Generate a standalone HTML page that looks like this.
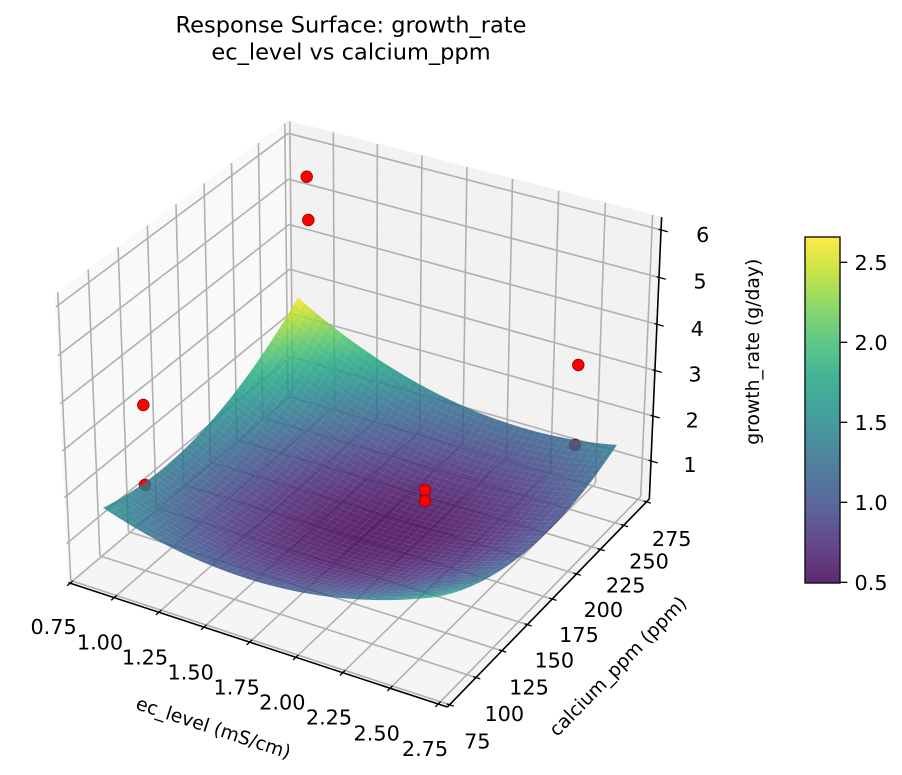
<!DOCTYPE html>
<html><head><meta charset="utf-8">
<style>
html,body{margin:0;padding:0;background:#fff;}
svg{display:block;}
text{font-family:"DejaVu Sans","Liberation Sans",sans-serif;fill:#000;}
</style></head>
<body>
<svg id="s" width="902" height="775" viewBox="0 0 902 775" xmlns="http://www.w3.org/2000/svg">
<rect width="902" height="775" fill="#fff"/>
<g id="panes"></g>
<g id="grid"></g>
<g id="axes"></g>
<g id="back" fill="#ff0000" stroke="#8b0000" stroke-width="0.8">
<circle cx="306.7" cy="176.7" r="5.8"/>
<circle cx="308.3" cy="220" r="5.8"/>
<circle cx="143.3" cy="405" r="5.8"/>
<circle cx="145" cy="485" r="5.8"/>
<circle cx="578.3" cy="365" r="5.8"/>
<circle cx="575" cy="445" r="5.8"/>
</g>
<g id="surf"></g>
<g id="front" fill="#ff0000" stroke="#8b0000" stroke-width="0.8">
<circle cx="425" cy="490" r="5.8"/>
<circle cx="425" cy="501" r="5.8"/>
</g>

<!-- title -->
<text x="351" y="32.5" font-size="22.5" text-anchor="middle">Response Surface: growth_rate</text>
<text x="351" y="59.5" font-size="22.5" text-anchor="middle">ec_level vs calcium_ppm</text>

<!-- x tick labels -->
<g font-size="20.8" text-anchor="middle">
<text x="53.6" y="634.1">0.75</text>
<text x="100" y="649.3">1.00</text>
<text x="145" y="664.3">1.25</text>
<text x="190.7" y="679.3">1.50</text>
<text x="236.7" y="694.3">1.75</text>
<text x="282.3" y="709.3">2.00</text>
<text x="329" y="724.3">2.25</text>
<text x="376.7" y="740.3">2.50</text>
<text x="425" y="755.9">2.75</text>
<!-- y tick labels -->
<text x="477.3" y="748.3">75</text>
<text x="504.3" y="720.9">100</text>
<text x="529" y="694.3">125</text>
<text x="554.3" y="667.6">150</text>
<text x="579" y="641.9">175</text>
<text x="603.3" y="616.9">200</text>
<text x="625.7" y="592.6">225</text>
<text x="649" y="568.3">250</text>
<text x="671.7" y="545.9">275</text>
<!-- z tick labels -->
<text x="702.7" y="241.9">6</text>
<text x="700" y="288.6">5</text>
<text x="697.3" y="335.9">4</text>
<text x="695" y="381.6">3</text>
<text x="692.3" y="427.6">2</text>
<text x="690" y="471.9">1</text>
</g>

<!-- axis labels -->
<g font-size="18.75" text-anchor="middle">
<text transform="translate(213.3,728.3) rotate(18.1)" x="0" y="5.8">ec_level (mS/cm)</text>
<text transform="translate(618.3,666.7) rotate(-45.5)" x="0" y="5.8">calcium_ppm (ppm)</text>
<text transform="translate(753.3,351.7) rotate(-90)" x="0" y="5.8">growth_rate (g/day)</text>
</g>

<!-- colorbar -->
<defs>
<linearGradient id="vg" x1="0" y1="1" x2="0" y2="0">
<stop offset="0" stop-color="#440154" stop-opacity="0.85"/>
<stop offset="0.1" stop-color="#482475" stop-opacity="0.85"/>
<stop offset="0.2" stop-color="#414487" stop-opacity="0.85"/>
<stop offset="0.3" stop-color="#355f8d" stop-opacity="0.85"/>
<stop offset="0.4" stop-color="#2a788e" stop-opacity="0.85"/>
<stop offset="0.5" stop-color="#21918c" stop-opacity="0.85"/>
<stop offset="0.6" stop-color="#22a884" stop-opacity="0.85"/>
<stop offset="0.7" stop-color="#44bf70" stop-opacity="0.85"/>
<stop offset="0.8" stop-color="#7ad151" stop-opacity="0.85"/>
<stop offset="0.9" stop-color="#bddf26" stop-opacity="0.85"/>
<stop offset="1" stop-color="#fde725" stop-opacity="0.85"/>
</linearGradient>
</defs>
<rect x="805" y="237" width="35" height="346" fill="url(#vg)" stroke="#111" stroke-width="1.4"/>
<g stroke="#000" stroke-width="1.3">
<line x1="840" y1="262.3" x2="847.3" y2="262.3"/>
<line x1="840" y1="342.3" x2="847.3" y2="342.3"/>
<line x1="840" y1="422.3" x2="847.3" y2="422.3"/>
<line x1="840" y1="502.3" x2="847.3" y2="502.3"/>
<line x1="840" y1="582.3" x2="847.3" y2="582.3"/>
</g>
<g font-size="20.8">
<text x="854.5" y="269.9">2.5</text>
<text x="854.5" y="349.9">2.0</text>
<text x="854.5" y="429.9">1.5</text>
<text x="854.5" y="509.9">1.0</text>
<text x="854.5" y="589.9">0.5</text>
</g>
</svg>
<script>
(function(){
var SX=3800, SY=3840, OX=364, OY=400.5;
var PB=[8/7,8/7,6/7];
function P(u,v,w){
  var dx=PB[0]*u-4/7, dy=PB[1]*v-4/7, dz=PB[2]*w-3/7;
  var X=0.8660254*dx+0.5*dy;
  var Y=-0.25*dx+0.4330127*dy+0.8660254*dz;
  var W=0.4330127*dx-0.75*dy+0.5*dz;
  var den=10-W;
  return [OX+SX*X/den, OY-SY*Y/den, W];
}
function uX(x){return 0.005+(x-0.75)/2*0.972;}
function vY(y){return 0.01+(y-75)/200*0.975;}
function wZ(z){return 0.1399+(z-1)*0.16334;}
function f(n){return n.toFixed(2);}
function ln(a,b,stroke,sw){
  return '<line x1="'+f(a[0])+'" y1="'+f(a[1])+'" x2="'+f(b[0])+'" y2="'+f(b[1])+'" stroke="'+stroke+'" stroke-width="'+sw+'"/>';
}
function poly(arr,fill){
  var d='';
  for(var i=0;i<arr.length;i++){var p=P(arr[i][0],arr[i][1],arr[i][2]);d+=(i?'L':'M')+f(p[0])+' '+f(p[1]);}
  return '<path d="'+d+'Z" fill="'+fill+'" stroke="'+fill+'" stroke-width="1"/>';
}
// panes
var ph='';
ph+=poly([[0,0,0],[1,0,0],[1,1,0],[0,1,0]],'#f5f5f5');
ph+=poly([[0,0,0],[0,1,0],[0,1,1],[0,0,1]],'#f9f9f9');
ph+=poly([[0,1,0],[1,1,0],[1,1,1],[0,1,1]],'#f2f2f2');
document.getElementById('panes').innerHTML=ph;
// grid
var gh='', GC='#b0b0b0', GW=1.6, i;
var xt=[0.75,1,1.25,1.5,1.75,2,2.25,2.5,2.75];
var yt=[75,100,125,150,175,200,225,250,275];
var zt=[1,2,3,4,5,6];
for(i=0;i<xt.length;i++){var u=uX(xt[i]);
  gh+=ln(P(u,0,0),P(u,1,0),GC,GW); gh+=ln(P(u,1,0),P(u,1,1),GC,GW);}
for(i=0;i<yt.length;i++){var v=vY(yt[i]);
  gh+=ln(P(0,v,0),P(1,v,0),GC,GW); gh+=ln(P(0,v,0),P(0,v,1),GC,GW);}
for(i=0;i<zt.length;i++){var w=wZ(zt[i]);
  gh+=ln(P(0,0,w),P(0,1,w),GC,GW); gh+=ln(P(0,1,w),P(1,1,w),GC,GW);}
document.getElementById('grid').innerHTML=gh;
// axes + ticks
var ah='';
ah+=ln(P(0,0,0),P(1,0,0),'#000',1.6);
ah+=ln(P(1,0,0),P(1,1,0),'#000',1.6);
ah+=ln(P(1,1,0),P(1,1,1),'#000',1.6);
function tick(base,toward,outL,inL){
  var dx=toward[0]-base[0], dy=toward[1]-base[1], L=Math.sqrt(dx*dx+dy*dy); dx/=L; dy/=L;
  return ln([base[0]-outL*dx,base[1]-outL*dy],[base[0]+inL*dx,base[1]+inL*dy],'#000',1.3);
}
for(i=0;i<xt.length;i++){var u2=uX(xt[i]); ah+=tick(P(u2,0,0),P(u2,1,0),4,3.5);}
for(i=0;i<yt.length;i++){var v2=vY(yt[i]); ah+=tick(P(1,v2,0),P(0,v2,0),4.5,3);}
for(i=0;i<zt.length;i++){var w2=wZ(zt[i]); ah+=tick(P(1,1,w2),P(0,1,w2),7,2.5);}
document.getElementById('axes').innerHTML=ah;
// surface
var VIR=[[68,1,84],[72,36,117],[65,68,135],[53,95,141],[42,120,142],[33,145,140],[34,168,132],[68,191,112],[122,209,81],[189,223,38],[253,231,37]];
function vir(t){t=Math.max(0,Math.min(1,t));var q=t*10;var k=Math.min(9,Math.floor(q));var r=q-k;var a=VIR[k],b=VIR[k+1];
  return 'rgb('+Math.round(a[0]+(b[0]-a[0])*r)+','+Math.round(a[1]+(b[1]-a[1])*r)+','+Math.round(a[2]+(b[2]-a[2])*r)+')';}
function zf(s,t){var a=s-0.57,b=t-0.47;return 0.5+2.867*a*a+2.62*b*b-1.62*a*b;}
var N=50, pts=[], j;
for(i=0;i<N;i++){var s=i/(N-1);pts.push([]);
  for(j=0;j<N;j++){var t=j/(N-1);var z=zf(s,t);
    var p=P(0.052+s*0.8797,0.0775+t*0.8741,wZ(z));pts[i].push([p[0],p[1],p[2],z]);}}
var quads=[];
for(i=0;i<N-1;i++)for(j=0;j<N-1;j++){
  var a=pts[i][j],b=pts[i+1][j],c=pts[i+1][j+1],d=pts[i][j+1];
  quads.push({c:[a,b,c,d],W:(a[2]+b[2]+c[2]+d[2])/4,z:(a[3]+b[3]+c[3]+d[3])/4});
}
quads.sort(function(x,y){return x.W-y.W;});
var VMIN=0.4956,VMAX=2.658,sh='';
for(i=0;i<quads.length;i++){var q=quads[i].c;
  sh+='<path d="M'+f(q[0][0])+' '+f(q[0][1])+'L'+f(q[1][0])+' '+f(q[1][1])+'L'+f(q[2][0])+' '+f(q[2][1])+'L'+f(q[3][0])+' '+f(q[3][1])+'Z" fill="'+vir((quads[i].z-VMIN)/(VMAX-VMIN))+'" fill-opacity="0.85"/>';}
document.getElementById('surf').innerHTML=sh;
})();
</script>
</body></html>
